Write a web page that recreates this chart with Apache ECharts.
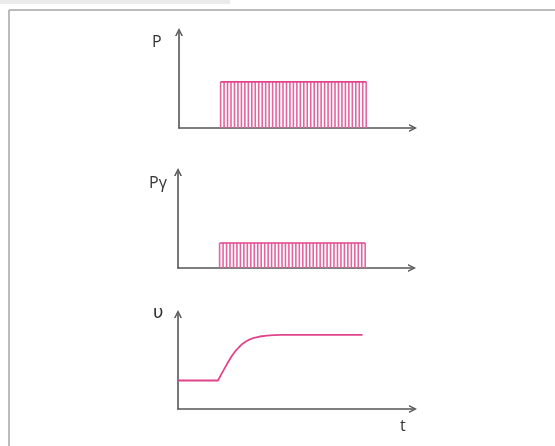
<!DOCTYPE html>
<html>
<head>
<meta charset="utf-8">
<script src="https://cdn.jsdelivr.net/npm/echarts@6/dist/echarts.min.js"></script>
<style>
  html, body { margin: 0; padding: 0; background: #fff; }
  #chart { width: 555px; height: 446px; }
</style>
</head>
<body>
<div id="chart"></div>
<script>
// ── Data ──────────────────────────────────────────────────────────────────────

// pulse instants (time units) shared by P and Pγ
const pulseTimes = [12, 13, 14, 15, 16, 17, 18, 19, 20, 21, 22, 23, 24, 25, 26, 27, 28, 29, 30, 31, 32,
                    33, 34, 35, 36, 37, 38, 39, 40, 41, 42, 43, 44, 45, 46, 47, 48, 49, 50, 51, 52, 53, 54];
const pLevel     = 48;   // height of P pulses
const pgLevel    = 26;   // height of Pγ pulses

// υ(t) response
const vTimes  = [0, 11.5, 12, 12.5, 13.5, 14.5, 15.5, 16.5, 17.5, 18.5, 19.5, 20.5, 21.5, 23.5, 25.5, 27.5, 29.5, 53];
const vValues = [30, 30, 33.5, 37, 43.5, 50, 56, 61, 65, 68.5, 71, 73, 74.5, 76.3, 77.3, 77.8, 78, 78];

const tMax = 67.5;
const yMax = 100;

const labels = { p: 'P', pg: 'Pγ', v: 'υ', t: 't' };

// ── Styles ────────────────────────────────────────────────────────────────────

const PINK      = '#e0458c';
const PINK_LINE = '#e5639f';
const AXIS      = '#555';
const chevron   = 'path://M0,10 L5,0 L10,10 L8,10 L5,3.8 L2,10 Z';

const grids = [
  { left: 179, top: 32,  width: 234, height: 96 },
  { left: 178, top: 172, width: 234, height: 96 },
  { left: 178, top: 314, width: 235, height: 95 },
];

function axisLine() {
  return {
    show: true,
    symbol: ['none', chevron],
    symbolSize: [11, 8],
    lineStyle: { color: AXIS, width: 1.6 },
  };
}

const xAxes = grids.map((g, i) => ({
  type: 'value', gridIndex: i, min: 0, max: tMax,
  axisLine: axisLine(), axisTick: { show: false }, axisLabel: { show: false }, splitLine: { show: false },
}));
const yAxes = grids.map((g, i) => ({
  type: 'value', gridIndex: i, min: 0, max: yMax,
  axisLine: axisLine(), axisTick: { show: false }, axisLabel: { show: false }, splitLine: { show: false },
}));

function pulseSeries(idx, level) {
  return [
    {
      type: 'bar', xAxisIndex: idx, yAxisIndex: idx, barWidth: 1.6, z: 1,
      data: pulseTimes.map(t => [t, level]),
      itemStyle: { color: PINK_LINE },
      silent: true,
    },
    {
      type: 'line', xAxisIndex: idx, yAxisIndex: idx, symbol: 'none', z: 2,
      data: [[pulseTimes[0], level], [pulseTimes[pulseTimes.length - 1], level]],
      lineStyle: { color: PINK, width: 1.6 },
      silent: true,
    },
  ];
}

const textStyle = { fill: '#333', font: '16px "Open Sans", sans-serif' };

const chart = echarts.init(document.getElementById('chart'), null, { renderer: 'canvas' });
chart.setOption({
  animation: false,
  backgroundColor: '#fff',
  grid: grids,
  xAxis: xAxes,
  yAxis: yAxes,
  series: [
    ...pulseSeries(0, pLevel),
    ...pulseSeries(1, pgLevel),
    {
      type: 'line', xAxisIndex: 2, yAxisIndex: 2, symbol: 'none',
      data: vTimes.map((t, i) => [t, vValues[i]]),
      lineStyle: { color: PINK, width: 1.8 },
      silent: true,
    },
  ],
  graphic: [
    // page chrome
    { type: 'rect', shape: { x: 0, y: 0, width: 230, height: 4 }, style: { fill: '#ebebeb' }, silent: true },
    { type: 'line', shape: { x1: 9, y1: 10, x2: 555, y2: 10 }, style: { stroke: '#a6a6a6', lineWidth: 1.5 }, silent: true },
    { type: 'line', shape: { x1: 9, y1: 10, x2: 9, y2: 446 }, style: { stroke: '#a6a6a6', lineWidth: 1.5 }, silent: true },
    // axis names
    { type: 'text', x: 152, y: 34, style: { ...textStyle, text: labels.p } },
    { type: 'text', x: 149, y: 175, style: { ...textStyle, text: labels.pg } },
    { type: 'text', x: 153, y: 304, style: { ...textStyle, font: '18px "DejaVu Sans", sans-serif', text: labels.v } },
    { type: 'text', x: 400, y: 418, style: { ...textStyle, text: labels.t } },
  ],
});
</script>
</body>
</html>
